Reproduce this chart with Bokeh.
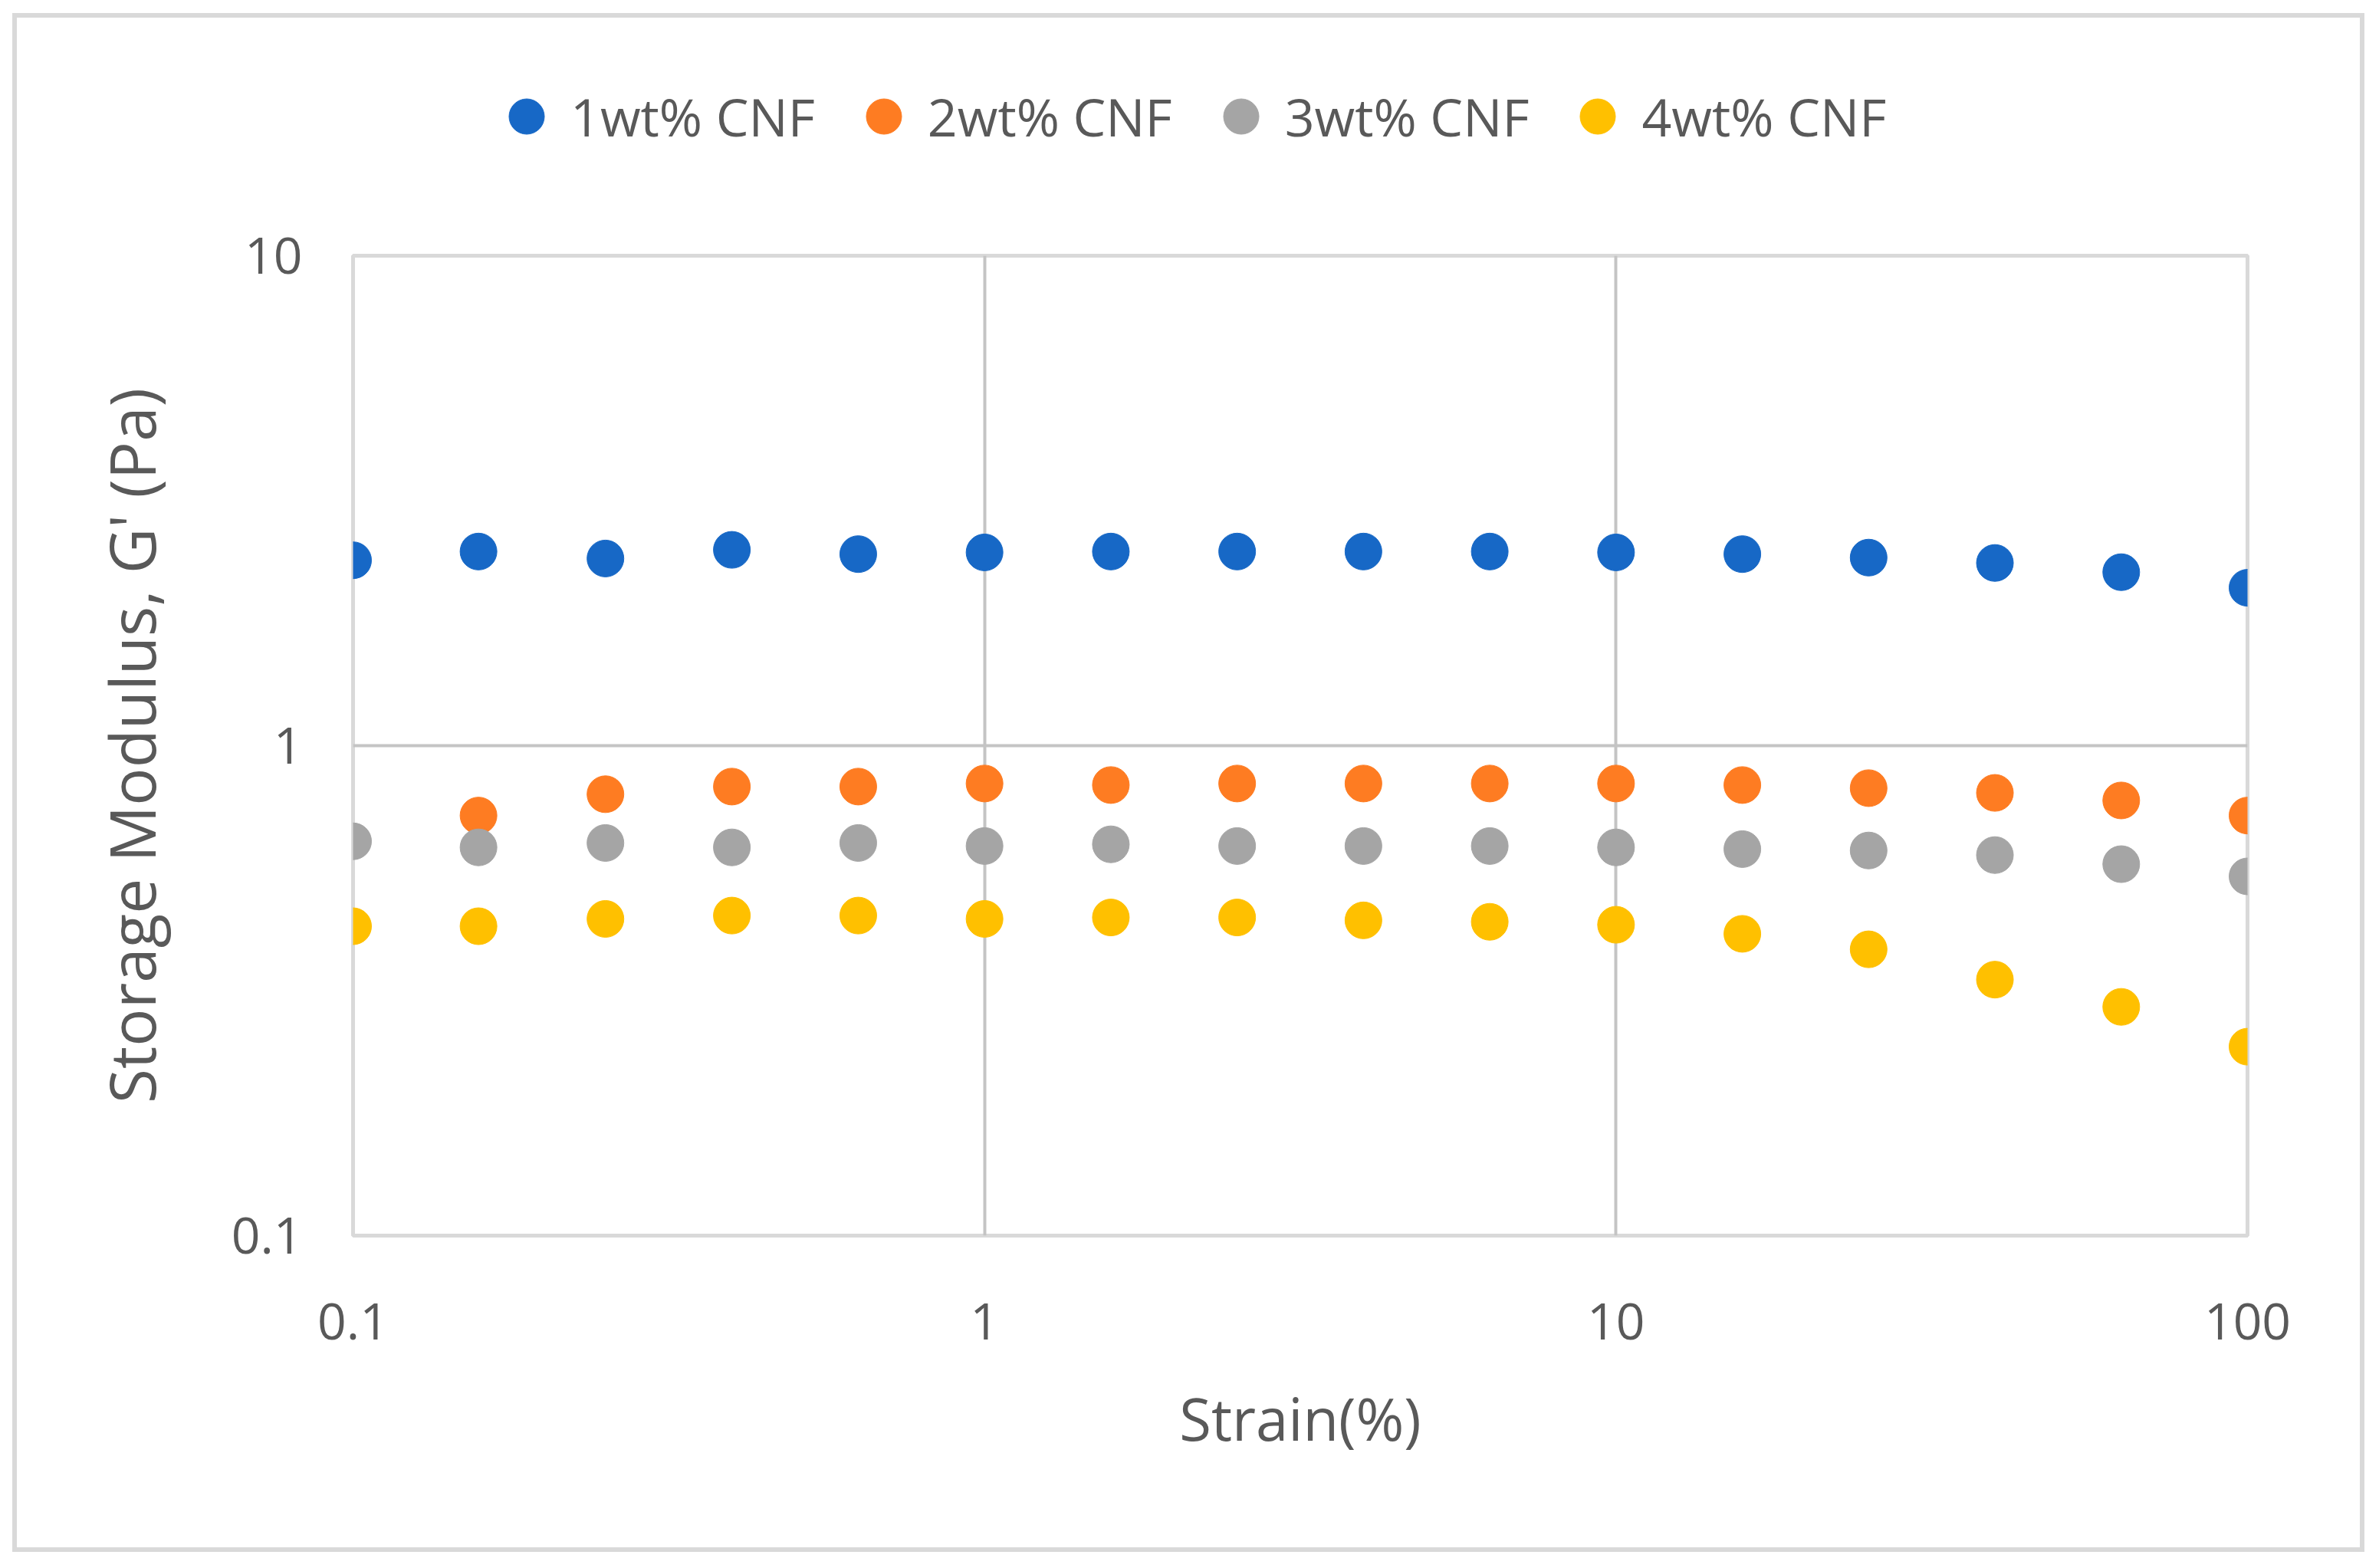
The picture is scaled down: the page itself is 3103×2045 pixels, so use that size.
import numpy as np
from bokeh.plotting import figure
from bokeh.layouts import column
from bokeh.models import (FixedTicker, CustomJSTickFormatter, Legend, LegendItem,
                          Range1d, ColumnDataSource)
from bokeh.embed import file_html
from bokeh.resources import INLINE

# ---- data ----
strain = [0.1, 0.158, 0.251, 0.398, 0.631, 1.0, 1.585, 2.512, 3.981, 6.31,
          10.0, 15.85, 25.12, 39.81, 63.1, 100.0]
cnf1 = [2.39, 2.49, 2.41, 2.51, 2.46, 2.48, 2.49, 2.49, 2.49, 2.49,
        2.48, 2.46, 2.42, 2.36, 2.26, 2.10]
cnf2 = [np.nan, 0.72, 0.796, 0.825, 0.825, 0.837, 0.831, 0.837, 0.837, 0.837,
        0.837, 0.831, 0.819, 0.801, 0.773, 0.72]
cnf3 = [0.638, 0.620, 0.633, 0.620, 0.633, 0.624, 0.629, 0.624, 0.624, 0.624,
        0.620, 0.615, 0.611, 0.598, 0.573, 0.541]
cnf4 = [0.428, 0.428, 0.443, 0.450, 0.450, 0.443, 0.446, 0.446, 0.440, 0.437,
        0.431, 0.413, 0.384, 0.333, 0.293, 0.243]
series_names = ["1wt% CNF", "2wt% CNF", "3wt% CNF", "4wt% CNF"]
series_colors = ["#1768C6", "#FE7C22", "#A5A5A5", "#FFC000"]
x_ticks = [0.1, 1, 10, 100]
y_ticks = [0.1, 1, 10]

FONT = "Open Sans"
TXT = "#595959"

INNER_W = 3056
LEG_H = 256
MAIN_H = 1739

# ---- main chart ----
p = figure(width=INNER_W, height=MAIN_H, x_axis_type="log", y_axis_type="log",
           x_range=Range1d(0.1, 100), y_range=Range1d(0.1, 10),
           output_backend="svg", toolbar_location=None,
           min_border_left=438, min_border_right=147,
           min_border_top=54, min_border_bottom=407,
           x_axis_label="Strain(%)", y_axis_label="Storage Modulus, G' (Pa)")
p.title.visible = False
p.background_fill_color = "white"
p.border_fill_color = "white"
p.outline_line_color = "#d9d9d9"
p.outline_line_width = 5

fmt = CustomJSTickFormatter(code="return tick.toString();")
for ax, ticks in ((p.xaxis[0], x_ticks), (p.yaxis[0], y_ticks)):
    ax.ticker = FixedTicker(ticks=ticks)
    ax.formatter = fmt
    ax.axis_line_color = None
    ax.major_tick_line_color = None
    ax.minor_tick_line_color = None
    ax.major_tick_out = 0
    ax.major_tick_in = 0
    ax.major_label_text_font = FONT
    ax.major_label_text_font_size = "66px"
    ax.major_label_text_color = TXT
    ax.axis_label_text_font = FONT
    ax.axis_label_text_font_style = "normal"
    ax.axis_label_text_color = TXT

p.xaxis[0].major_label_standoff = 88
p.yaxis[0].major_label_standoff = 66
p.xaxis[0].axis_label_text_font_size = "76px"
p.yaxis[0].axis_label_text_font_size = "82px"
p.xaxis[0].axis_label_standoff = 48
p.yaxis[0].axis_label_standoff = 72

p.xgrid[0].ticker = FixedTicker(ticks=[1, 10])
p.ygrid[0].ticker = FixedTicker(ticks=[1])
for g in (p.xgrid[0], p.ygrid[0]):
    g.grid_line_color = "#c4c4c4"
    g.grid_line_width = 4

sources = []
for vals, col in zip((cnf1, cnf2, cnf3, cnf4), series_colors):
    src = ColumnDataSource(dict(x=np.array(strain, dtype=float), y=np.array(vals, dtype=float)))
    sources.append(src)
    p.scatter("x", "y", source=src, size=48, marker="circle",
              fill_color=col, line_color=col, line_width=1)

# ---- legend strip (same series, ranges chosen so that no point shows) ----
lf = figure(width=INNER_W, height=LEG_H, output_backend="svg", toolbar_location=None,
            x_axis_location=None, y_axis_location=None,
            x_range=Range1d(1000, 2000), y_range=Range1d(1000, 2000),
            min_border=0, min_border_left=0, min_border_right=0,
            min_border_top=0, min_border_bottom=0)
lf.title.visible = False
lf.outline_line_color = None
lf.xgrid.visible = False
lf.ygrid.visible = False
items = []
for name, col, src in zip(series_names, series_colors, sources):
    r = lf.scatter("x", "y", source=src, size=48, marker="circle",
                   fill_color=col, line_color=col, line_width=1)
    items.append(LegendItem(label=name, renderers=[r], index=2))
legend = Legend(items=items, orientation="horizontal", location=(169, 70),
                glyph_width=115, glyph_height=115, label_standoff=0, spacing=32,
                padding=0, margin=0, border_line_color=None,
                background_fill_alpha=0,
                label_text_font=FONT, label_text_font_size="68px",
                label_text_color=TXT)
lf.add_layout(legend, "center")

layout = column(lf, p, spacing=0,
                styles={"border": "6px solid #d9d9d9",
                        "margin-left": "16px", "margin-top": "17px"})

open("out.html", "w").write(file_html(layout, INLINE))
